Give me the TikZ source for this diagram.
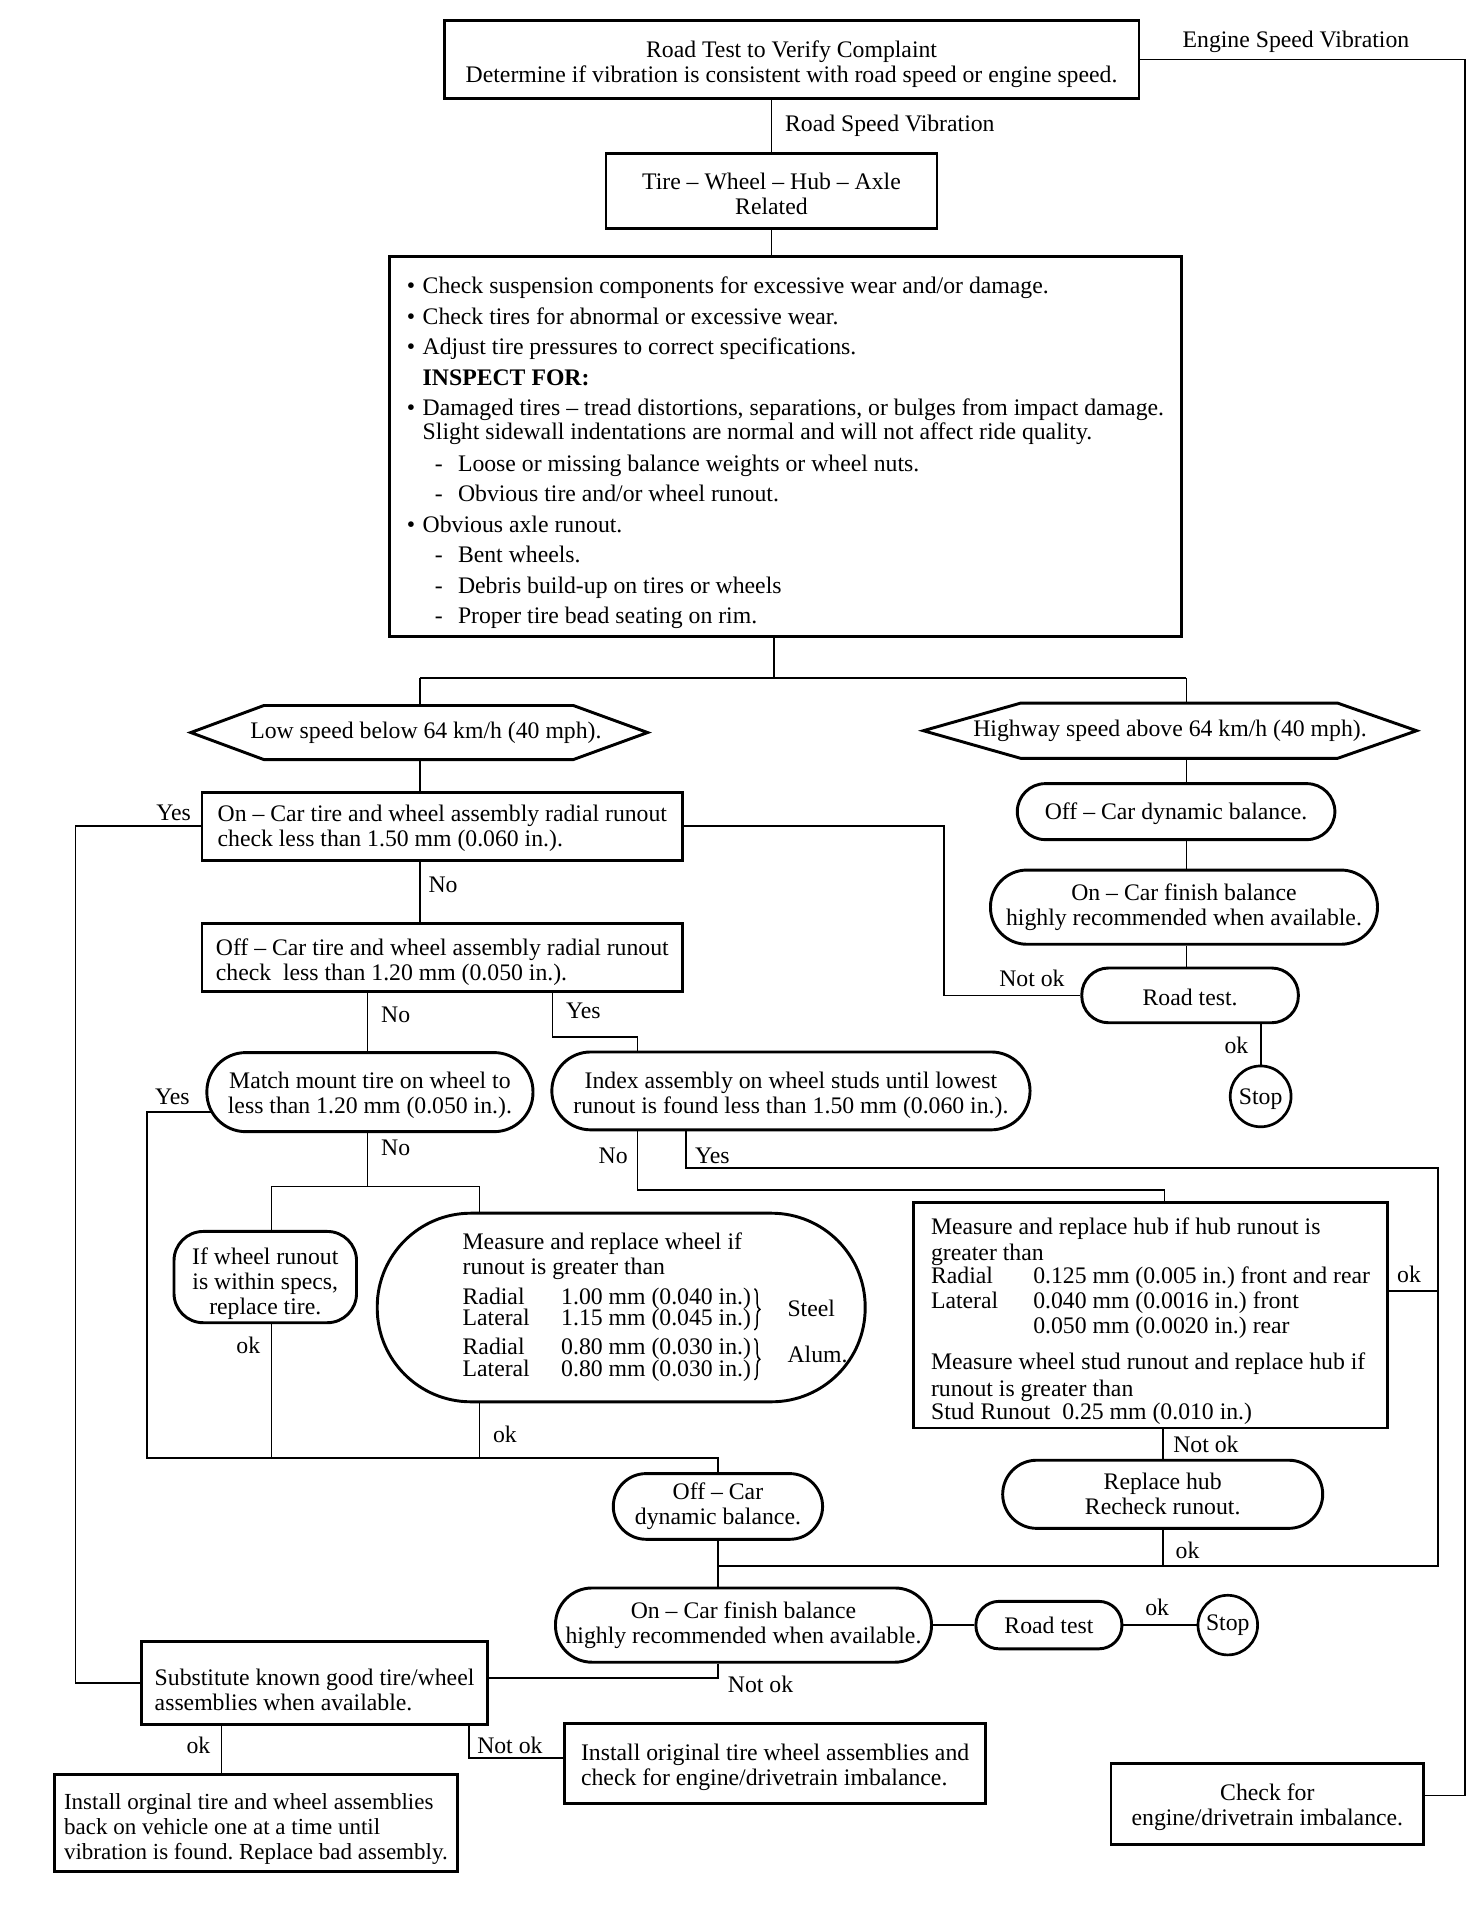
\documentclass[tikz,border=0pt]{standalone}
\usepackage{fontspec}
\setmainfont{Liberation Serif}
\usetikzlibrary{shapes.misc,calc,decorations.pathreplacing}
\frenchspacing
\newcommand{\tsp}[1]{\rule{0pt}{#1pt}}
\begin{document}
\begin{tikzpicture}[x=1pt,y=-1pt,
  every node/.style={font=\fontsize{19.5pt}{20.5pt}\selectfont, inner sep=0pt},
  box/.style={draw, line width=2.4pt, rectangle, align=left},
  cbox/.style={draw, line width=2.4pt, rectangle, align=center},
  pill/.style={draw, line width=2.4pt, rectangle, rounded corners=#1, align=center},
  pill/.default=22pt,
  stopc/.style={draw, line width=2.2pt, circle, minimum size=50pt},
  hexb/.style={line width=2.4pt, line join=miter},
  conn/.style={line width=1.4pt},
  brc/.style={line width=1.2pt, decorate, decoration={brace, amplitude=4.5pt}}
]
\fill[white] (0,0) rectangle (1210,1568);
\useasboundingbox (0,0) rectangle (1210,1568);

% ---------- main nodes ----------
\node[cbox, minimum width=571pt, minimum height=64pt] (top) at (650.5,49)
  {\tsp{20.5}Road Test to Verify Complaint\\Determine if vibration is consistent with road speed or engine speed.};
\node[cbox, minimum width=272pt, minimum height=62pt] (tire) at (634,157)
  {\tsp{17.5}Tire – Wheel – Hub – Axle\\Related};
\node[box, minimum width=651pt, minimum height=312pt] (insp) at (645.5,367)
  {\tsp{24}\makebox[13pt][l]{•}Check suspension components for excessive wear and/or damage.\\[4.5pt]
   \makebox[13pt][l]{•}Check tires for abnormal or excessive wear.\\[4.5pt]
   \makebox[13pt][l]{•}Adjust tire pressures to correct specifications.\\[4.5pt]
   \hspace*{13pt}\textbf{INSPECT FOR:}\\[4.5pt]
   \makebox[13pt][l]{•}Damaged tires – tread distortions, separations, or bulges from impact damage.\\[-0.5pt]
   \hspace*{13pt}Slight sidewall indentations are normal and will not affect ride quality.\\[5.5pt]
   \hspace*{23pt}\makebox[19pt][l]{-}Loose or missing balance weights or wheel nuts.\\[4.5pt]
   \hspace*{23pt}\makebox[19pt][l]{-}Obvious tire and/or wheel runout.\\[4.5pt]
   \makebox[13pt][l]{•}Obvious axle runout.\\[4.5pt]
   \hspace*{23pt}\makebox[19pt][l]{-}Bent wheels.\\[4.5pt]
   \hspace*{23pt}\makebox[19pt][l]{-}Debris build-up on tires or wheels\\[4.5pt]
   \hspace*{23pt}\makebox[19pt][l]{-}Proper tire bead seating on rim.};

% hexagons
\node[minimum width=375pt, minimum height=44pt] (lows) at (350,602) {Low speed below 64 km/h (40 mph).};
\draw[hexb] ($(lows.west)+(-5.5,0)$) -- ($(lows.north west)+(54.5,0)$) -- ($(lows.north east)+(-66.5,0)$)
  -- ($(lows.east)+(-5.5,0)$) -- ($(lows.south east)+(-66.5,0)$) -- ($(lows.south west)+(54.5,0)$) -- cycle;
\node[minimum width=405pt, minimum height=45pt] (high) at (961.5,600.5) {Highway speed above 64 km/h (40 mph).};
\draw[hexb] (high.west) -- ($(high.north west)+(80,0)$) -- ($(high.north east)+(-65,0)$) -- (high.east)
  -- ($(high.south east)+(-65,0)$) -- ($(high.south west)+(80,0)$) -- cycle;

% left column
\node[box, minimum width=395pt, minimum height=56pt] (onbox) at (363.5,679)
  {\tsp{17.5}On – Car tire and wheel assembly radial runout\\check less than 1.50 mm (0.060 in.).};
\node[box, minimum width=395pt, minimum height=56pt] (offbox) at (363.5,787)
  {\tsp{20.5}Off – Car tire and wheel assembly radial runout\\check\ \ less than 1.20 mm (0.050 in.).};
\node[pill=32pt, minimum width=268pt, minimum height=65pt] (match) at (304,897.5)
  {\tsp{19.5}Match mount tire on wheel to\\less than 1.20 mm (0.050 in.).};
\node[pill=32pt, minimum width=393pt, minimum height=64pt] (index) at (650,896.5)
  {\tsp{21.5}Index assembly on wheel studs until lowest\\runout is found less than 1.50 mm (0.060 in.).};
\node[pill=24pt, minimum width=150pt, minimum height=75pt] (ifw) at (218,1049.5)
  {\tsp{24}If wheel runout\\is within specs,\\replace tire.};
\node[pill=77pt, minimum width=401pt, minimum height=155pt] (measw) at (510.5,1074.5) {};
\node[anchor=west, align=left] (measwt) at (380,1074.5)
  {Measure and replace wheel if\\
   runout is greater than\\[4pt]
   \makebox[81pt][l]{Radial}1.00 mm (0.040 in.)\\[-3pt]
   \makebox[81pt][l]{Lateral}1.15 mm (0.045 in.)\\[3pt]
   \makebox[81pt][l]{Radial}0.80 mm (0.030 in.)\\[-2pt]
   \makebox[81pt][l]{Lateral}0.80 mm (0.030 in.)};
\draw[brc] (620,1059) -- (620,1093);
\draw[brc] (620,1100) -- (620,1134);
\node[anchor=west] (steel) at (647,1075) {Steel};
\node[anchor=west] (alum) at (647,1113) {Alum.};

% right column
\node[pill=23pt, minimum width=261pt, minimum height=46pt] (roff) at (966.5,667) {\tsp{17}Off – Car dynamic balance.};
\node[pill=30pt, minimum width=318pt, minimum height=61pt] (ron) at (973,745.5)
  {On – Car finish balance\\highly recommended when available.};
\node[pill=22pt, minimum width=178pt, minimum height=45pt] (rt1) at (978,818) {\tsp{17.5}Road test.};
\node[stopc] (stop1) at (1036,901) {\tsp{17.5}Stop};

\node[box, minimum width=389pt, minimum height=185pt] (hub) at (945.5,1081)
  {\tsp{23}Measure and replace hub if hub runout is\\[1.5pt]
   greater than\\[-2pt]
   \makebox[84pt][l]{Radial}0.125 mm (0.005 in.) front and rear\\
   \makebox[84pt][l]{Lateral}0.040 mm (0.0016 in.) front\\
   \hspace*{84pt}0.050 mm (0.0020 in.) rear\\[9.5pt]
   Measure wheel stud runout and replace hub if\\[1.5pt]
   runout is greater than\\[-1.5pt]
   Stud Runout\ \ 0.25 mm (0.010 in.)};
\node[pill=28pt, minimum width=263pt, minimum height=56pt] (rhub) at (955.5,1228)
  {Replace hub\\Recheck runout.};

% bottom
\node[pill=27pt, minimum width=172pt, minimum height=54pt] (boff) at (590,1238)
  {Off – Car\\dynamic balance.};
\node[pill=30pt, minimum width=309pt, minimum height=61pt] (bon) at (611,1335.5)
  {On – Car finish balance\\highly recommended when available.};
\node[pill=19pt, minimum width=120pt, minimum height=39pt] (rt2) at (862,1335.5) {Road test};
\node[stopc, minimum size=49pt] (stop2) at (1009,1335.5) {Stop};
\node[box, minimum width=285pt, minimum height=68pt] (subst) at (258.5,1383)
  {\tsp{24.5}Substitute known good tire/wheel\\assemblies when available.};
\node[box, minimum width=331pt, minimum height=80pt, font=\fontsize{18.9pt}{20.5pt}\selectfont] (inst1) at (210.3,1498)
  {\tsp{23.5}Install orginal tire and wheel assemblies\\back on vehicle one at a time until\\vibration is found. Replace bad assembly.};
\node[box, minimum width=346pt, minimum height=66pt] (inst2) at (637,1449)
  {\tsp{20.5}Install original tire wheel assemblies and\\check for engine/drivetrain imbalance.};
\node[cbox, minimum width=257pt, minimum height=67pt] (check) at (1041.5,1482.5)
  {\tsp{19.5}Check for\\engine/drivetrain imbalance.};

% ---------- coordinates ----------
\coordinate (jl) at (345,557);
\coordinate (jc) at (636,557);
\coordinate (jr) at (975,557);
\coordinate (xL) at (62,0);
\coordinate (xM) at (776,0);
\coordinate (xR) at (1204,0);
\coordinate (xY) at (1182,0);
\coordinate (xIx) at (454,852);
\coordinate (xIn) at (524,0);
\coordinate (xIs) at (564,0);
\coordinate (mY) at ($(match.west)+(4.5,16.5)$);
\coordinate (xB) at (121,0);
\coordinate (bm) at (590,1198);
\coordinate (jm) at (302,975);
\coordinate (xF) at (223,0);
\coordinate (xW) at (394,0);
\coordinate (iN) at (524,978);
\coordinate (iY) at (564,960);
\coordinate (xH) at (957,0);
\coordinate (bl) at (590,1287);
\coordinate (hO) at ($(hub.east)+(0,-20)$);
\coordinate (bn) at (590,1379);
\coordinate (xSo) at (182,0);
\coordinate (sN) at (385.6,1445);
\coordinate (cE) at ($(check.east)+(0,-7)$);

% ---------- connectors ----------
\draw[conn] (top.south -| tire.north) -- (tire.north);
\draw[conn] (top.east) -| (xR |- cE) -- (cE);
\draw[conn] (tire.south) -- (tire.south |- insp.north);
\draw[conn] (jc |- insp.south) -- (jc);
\draw[conn] (jl) -- (jr);
\draw[conn] (jl) -- (jl |- lows.north);
\draw[conn] (jr) -- (jr |- high.north);
\draw[conn] (jl |- lows.south) -- (jl |- onbox.north);
\draw[conn] (jl |- onbox.south) -- (jl |- offbox.north);
\draw[conn] (onbox.west) -- (onbox.west -| xL) |- (subst.west);
\draw[conn] (onbox.east) -| (xM |- rt1.west) -- (rt1.west);
\draw[conn] (jr |- high.south) -- (jr |- roff.north);
\draw[conn] (jr |- roff.south) -- (jr |- ron.north);
\draw[conn] (jr |- ron.south) -- (jr |- rt1.north);
\draw[conn] (rt1.south -| stop1.north) -- (stop1.north);
\draw[conn] (offbox.south -| jm) -- (jm |- match.north);
\draw[conn] (offbox.south -| xIx) -- (xIx) -| (xIn |- index.north);
\draw[conn] (mY) -| (xB |- bm) -- (bm) -- (boff.north);
\draw[conn] (jm |- match.south) -- (jm);
\draw[conn] (xF |- jm) -- (xW |- jm);
\draw[conn] (xF |- jm) -- (xF |- ifw.north);
\draw[conn] (xW |- jm) -- (xW |- measw.north);
\draw[conn] (xF |- ifw.south) -- (xF |- bm);
\draw[conn] (xW |- measw.south) -- (xW |- bm);
\draw[conn] (xIn |- index.south) -- (iN) -| (xH |- hub.north);
\draw[conn] (xIs |- index.south) -- (iY) -| (xY |- bl) -- (bl);
\draw[conn] (hO) -- (xY |- hO);
\draw[conn] (hub.south -| rhub.north) -- (rhub.north);
\draw[conn] (rhub.south) -- (rhub.south |- bl);
\draw[conn] (boff.south) -- (boff.south |- bon.north);
\draw[conn] (bon.east) -- (rt2.west);
\draw[conn] (rt2.east) -- (stop2.west);
\draw[conn] (boff.south |- bon.south) -- (bn) -- (bn -| subst.east);
\draw[conn] (xSo |- subst.south) -- (xSo |- inst1.north);
\draw[conn] (sN |- subst.south) -- (sN) -- (sN -| inst2.west);

% ---------- labels ----------
\node[anchor=west] (lrs) at (645,103) {Road Speed Vibration};
\node (les) at (1065,34) {Engine Speed Vibration};
\node[anchor=east] (ly1) at (157,668) {Yes};
\node[anchor=west] (ln1) at (352,727) {No};
\node[anchor=west] (lno1) at (821,804) {Not ok};
\node[anchor=east] (lok1) at (1026,859) {ok};
\node[anchor=west] (ln2) at (313,834) {No};
\node[anchor=west] (ly2) at (465,831) {Yes};
\node[anchor=east] (ly3) at (156,901) {Yes};
\node[anchor=west] (ln3) at (313,943) {No};
\node[anchor=east] (ln4) at (516,950) {No};
\node[anchor=west] (ly4) at (571,950) {Yes};
\node[anchor=east] (lok2) at (214,1106) {ok};
\node[anchor=west] (lok3) at (405,1179) {ok};
\node[anchor=west] (lok4) at (1148,1047) {ok};
\node[anchor=west] (lno2) at (964,1187) {Not ok};
\node[anchor=west] (lok5) at (966,1274) {ok};
\node (lok6) at (951,1321) {ok};
\node[anchor=west] (lno3) at (598,1384) {Not ok};
\node[anchor=east] (lok7) at (173,1434) {ok};
\node[anchor=west] (lno4) at (392,1434) {Not ok};
\end{tikzpicture}
\end{document}
